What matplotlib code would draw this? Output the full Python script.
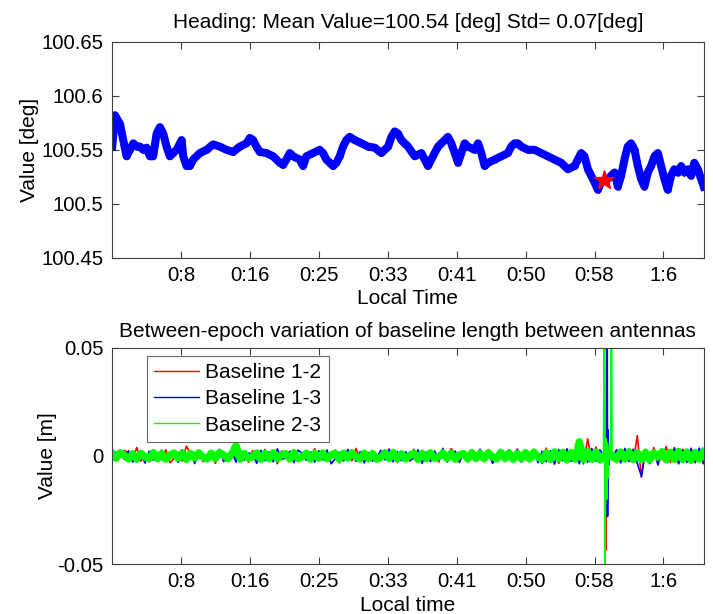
import numpy as np
import matplotlib
matplotlib.use("Agg")
import matplotlib.pyplot as plt

plt.rcParams['font.family'] = ['Liberation Sans', 'DejaVu Sans']

# heading solution (seconds from start, degrees)
heading_t = [2, 22, 58, 82, 106, 130, 155, 179, 203, 227, 251, 275, 299, 324, 348,
             372, 396, 420, 444, 469, 493, 505, 517, 541, 565, 589, 613, 638, 686, 734,
             782, 831, 879, 927, 976, 1000, 1024, 1048, 1072, 1121, 1169, 1217, 1241,
             1265, 1290, 1314, 1362, 1386, 1410, 1459, 1507, 1531, 1555, 1579, 1604,
             1628, 1652, 1676, 1700, 1724, 1761, 1809, 1858, 1906, 1954, 2003, 2027,
             2051, 2075, 2099, 2147, 2196, 2244, 2292, 2316, 2365, 2413, 2437, 2461,
             2486, 2510, 2534, 2558, 2582, 2630, 2655, 2679, 2703, 2727, 2775, 2824,
             2872, 2896, 2920, 2944, 2969, 3017, 3065, 3113, 3162, 3210, 3258, 3307,
             3355, 3379, 3403, 3427, 3452, 3500, 3524, 3548, 3596, 3645, 3669, 3693,
             3717, 3741, 3765, 3790, 3814, 3838, 3862, 3886, 3910, 3935, 3959, 3983,
             4007, 4031, 4055, 4079, 4104, 4128, 4152, 4176, 4200, 4224, 4249, 4273, 4292]
heading_v = [100.553, 100.582, 100.574, 100.559, 100.544, 100.550, 100.556, 100.553,
             100.553, 100.550, 100.552, 100.544, 100.544, 100.565, 100.571, 100.565,
             100.553, 100.544, 100.547, 100.550, 100.556, 100.559, 100.544, 100.535,
             100.535, 100.541, 100.544, 100.547, 100.550, 100.555, 100.553, 100.550,
             100.548, 100.553, 100.556, 100.561, 100.559, 100.553, 100.548, 100.547,
             100.544, 100.538, 100.536, 100.541, 100.547, 100.544, 100.541, 100.535,
             100.544, 100.547, 100.550, 100.547, 100.541, 100.538, 100.535, 100.538,
             100.544, 100.553, 100.559, 100.562, 100.559, 100.556, 100.553, 100.552,
             100.547, 100.553, 100.562, 100.567, 100.565, 100.559, 100.553, 100.544,
             100.547, 100.535, 100.541, 100.553, 100.559, 100.562, 100.556, 100.547,
             100.538, 100.547, 100.556, 100.553, 100.550, 100.556, 100.547, 100.535,
             100.538, 100.541, 100.544, 100.547, 100.553, 100.556, 100.556, 100.553,
             100.550, 100.550, 100.547, 100.544, 100.541, 100.538, 100.532, 100.535,
             100.541, 100.547, 100.544, 100.532, 100.520, 100.513, 100.520, 100.523,
             100.529, 100.516, 100.526, 100.541, 100.553, 100.556, 100.550, 100.535,
             100.523, 100.516, 100.529, 100.535, 100.544, 100.547, 100.535, 100.523,
             100.513, 100.526, 100.532, 100.529, 100.535, 100.529, 100.532, 100.526,
             100.538, 100.532, 100.523, 100.516]
star_t, star_v = 3572, 100.522
heading_mean, heading_std = 100.54, 0.07

tick_sec = [500, 1000, 1500, 2000, 2500, 3000, 3500, 4000]
tick_lbl = ['0:8', '0:16', '0:25', '0:33', '0:41', '0:50', '0:58', '1:6']
t_end = 4292

# between-epoch baseline length change, one sample every 30 s, in mm
step = 30
bl12_mm = [1.8, -2.1, -0.6, 2.6, 1.1, -1.5, 3.9, -2.4, 0.8, -2.8,
           2.2, 1.0, -1.7, 2.9, -3.1, -1.2, 1.6, -2.3, 4.6, 0.7,
           -1.9, 2.4, -2.6, -0.9, 1.3, -3.4, 2.1, 1.2, -1.8, 3.2,
           -2.2, 0.5, 1.7, -2.9, 2.5, -1.4, -0.8, 3.0, -2.5, 1.9,
           -3.6, 2.3, 0.9, -1.6, 2.8, -2.7, -1.1, 1.4, -2.0, 3.3,
           -2.4, 2.0, -1.9, -0.7, 2.7, -3.2, 1.5, 0.6, -2.2, 3.5,
           -1.8, 2.2, -2.6, 1.6, -0.9, -2.3, 2.9, -1.7, 2.4, -3.0,
           1.8, 0.8, -2.5, 3.1, -1.9, 2.6, -2.2, -1.0, 1.7, -2.8,
           2.3, -1.6, 3.4, 1.2, -2.4, 2.0, -2.9, 1.5, -2.1, 2.8,
           -1.8, 3.0, -3.3, -1.2, 2.1, -2.0, 2.5, -1.7, 3.2, -2.6,
           1.9, -2.2, 2.7, 0.9, -3.5, 3.6, -2.8, 2.2, -3.4, 1.8,
           -3.1, 2.9, -2.0, 2.4, -3.7, 7.9, -2.2, 4.1, -3.0, 0.4,
           -0.3, 0.5, -3.1, 2.7, -2.3, 3.4, -2.9, 9.4, -9.8, 2.8,
           -3.3, 3.9, -2.6, -1.0, 4.4, -3.0, 2.5, -3.7, 3.1, -2.4,
           3.6, -3.2, 2.8, -3.5]
bl13_mm = [-2.3, 1.9, 0.7, -1.6, 2.4, -2.8, -1.0, 1.5, -3.3, 2.2,
           -1.9, -0.8, 2.7, -2.5, 1.7, 0.6, -3.0, 2.9, -1.8, 2.3,
           -3.5, 1.6, 0.9, -2.4, 2.1, -1.7, 3.1, -2.6, -0.7, 1.8,
           -2.9, 2.5, -2.0, 1.4, 0.8, -3.4, 2.6, -2.2, 1.9, -2.7,
           3.3, -1.6, -0.9, 2.2, -3.1, 2.7, 1.1, -2.0, 1.8, -2.9,
           2.4, -1.9, 2.8, -3.6, -1.2, 1.7, -2.3, 3.0, 0.6, -2.5,
           2.0, -3.2, 1.6, -2.4, -0.8, 2.6, -1.8, 3.2, -2.7, 2.1,
           -2.2, 1.9, -2.0, -1.1, 2.9, -3.4, 1.8, -2.6, 2.3, -1.9,
           3.5, -2.8, 0.7, 2.2, -3.0, 1.7, -2.2, 2.6, -2.5, 3.1,
           -1.8, 2.4, -3.3, -1.0, 2.0, -2.4, 2.8, -1.9, 3.0, -2.9,
           1.8, -2.6, 2.5, -3.1, 2.2, -2.7, 2.4, -3.8, 2.9, -2.2,
           3.3, -2.5, 2.7, -3.6, 3.1, -2.9, 3.5, -2.4, 2.8, -0.4,
           0.3, -0.5, 2.9, -3.2, 3.5, -2.6, 3.1, -3.4, -9.4, 3.0,
           -3.6, 2.7, -4.2, 3.2, -2.9, -1.2, 3.8, -3.3, 2.6, -3.0,
           3.4, -2.8, 3.6, -3.4]
bl23_mm = [1.3, -1.1, 1.5, 0.3, -1.4, 1.0, -1.5, 1.2, -0.4, -1.2,
           1.6, -1.3, 1.1, -1.5, 0.4, 1.4, -1.2, 1.3, -1.6, 1.2,
           -1.0, 1.5, -0.5, -1.4, 1.3, -1.2, 1.6, 0.5, -1.3, 1.1,
           4.8, -1.5, 1.2, -1.1, -0.3, 1.4, -1.6, 1.2, -1.3, 1.5,
           -1.3, 0.4, 1.1, -1.4, 1.5, -1.2, -0.5, 1.3, -1.5, 1.2,
           -1.1, 1.4, -1.3, 0.5, 1.2, -1.6, 1.3, -1.0, 1.5, -0.3,
           -1.4, 1.3, -1.2, 1.1, -1.5, -0.6, 1.4, -1.2, 1.6, -1.3,
           1.0, -1.4, 0.4, 1.2, -1.6, 1.2, -1.3, 1.5, -1.1, -0.4,
           1.4, -1.2, 1.3, -1.5, 0.5, 1.1, -1.4, 1.6, -1.2, 1.2,
           -1.3, 1.5, -0.4, -1.4, 1.7, -1.2, 1.4, -1.6, 1.2, -1.3,
           1.6, -1.4, 1.8, -0.5, -1.7, 1.5, -1.6, 1.9, -1.3, 1.7,
           -1.8, 1.6, -1.5, 6.6, -1.7, 2.0, -1.6, 1.8, -1.9, 0.2,
           -0.3, 0.4, -1.6, 1.8, -1.4, 1.9, -1.7, 1.6, -1.8, 1.7,
           -1.9, 1.5, -0.6, 2.0, -1.8, 1.7, -1.6, 2.1, -1.7, 1.8,
           -2.0, 1.6, -1.5, 1.9]

# antenna disturbance near 0:59 (seconds, metres)
jump12_t = [3570, 3578, 3583, 3587, 3592, 3598]
jump12 = [0.0, 0.002, -0.0435, 0.004, -0.006, 0.002]
jump13_t = [3570, 3585, 3591, 3594, 3598, 3603, 3611]
jump13 = [0.0, 0.003, 0.08, -0.028, 0.012, -0.004, 0.003]
jump23_t = [3566, 3572, 3575, 3579, 3583, 3588, 3593, 3597, 3604, 3617, 3622, 3626]
jump23 = [0.002, 0.09, -0.07, -0.014, 0.008, -0.02, 0.006, -0.01, 0.004, 0.002, 0.09, -0.002]


def draw_baseline(ax, noise_mm, jt, jv, color, lw, label):
    t = np.arange(len(noise_mm)) * step
    ax.plot(t, np.array(noise_mm) / 1000.0, color=color, lw=lw, label=label)
    ax.plot(jt, jv, color=color, lw=1.3)


def matlab_axes(ax):
    for s in ax.spines.values():
        s.set_color('#404040')
        s.set_linewidth(0.8)
    ax.tick_params(direction='in', top=True, right=True, length=5,
                   width=0.8, color='#404040', labelsize=14.7, pad=6)
    ax.set_xticks(tick_sec)
    ax.set_xticklabels(tick_lbl)
    ax.set_xlim(0, t_end)


fig = plt.figure(figsize=(7.13, 6.14), dpi=100)
ax1 = fig.add_axes([0.157, 0.580, 0.830, 0.352])
ax2 = fig.add_axes([0.157, 0.0814, 0.830, 0.352])

ax1.plot(heading_t, heading_v, color='blue', lw=5.8, solid_joinstyle='round')
ax1.plot(heading_t, heading_v, '.', color='blue', ms=7)
ax1.plot(star_t, star_v, '*', color='red', ms=15, mec='red')
ax1.set_ylim(100.45, 100.65)
ax1.set_yticks([100.45, 100.5, 100.55, 100.6, 100.65])
ax1.set_yticklabels(['100.45', '100.5', '100.55', '100.6', '100.65'])
matlab_axes(ax1)
ax1.set_title('Heading: Mean Value=%.2f [deg] Std= %.2f[deg]' % (heading_mean, heading_std),
              fontsize=15, pad=10)
ax1.set_xlabel('Local Time', fontsize=15, labelpad=3)
ax1.set_ylabel('Value [deg]', fontsize=15, labelpad=2)

draw_baseline(ax2, bl12_mm, jump12_t, jump12, 'red', 1.2, 'Baseline 1-2')
draw_baseline(ax2, bl13_mm, jump13_t, jump13, 'blue', 1.2, 'Baseline 1-3')
draw_baseline(ax2, bl23_mm, jump23_t, jump23, '#00ff00', 5.3, 'Baseline 2-3')
ax2.set_ylim(-0.05, 0.05)
ax2.set_yticks([-0.05, 0, 0.05])
ax2.set_yticklabels(['-0.05', '0', '0.05'])
matlab_axes(ax2)
ax2.set_title('Between-epoch variation of baseline length between antennas',
              fontsize=15, pad=8)
ax2.set_xlabel('Local time', fontsize=15, labelpad=3)
ax2.set_ylabel('Value [m]', fontsize=15, labelpad=0)
leg = ax2.legend(loc='upper left', bbox_to_anchor=(0.059, 0.963), fontsize=15,
                 frameon=True, fancybox=False, edgecolor='#404040',
                 handlelength=2.15, borderpad=0.35, labelspacing=0.35,
                 handletextpad=0.3, borderaxespad=0)
for h in leg.get_lines():
    h.set_linewidth(1.0)
leg.get_frame().set_linewidth(0.8)

fig.savefig('out.png', dpi=100)
